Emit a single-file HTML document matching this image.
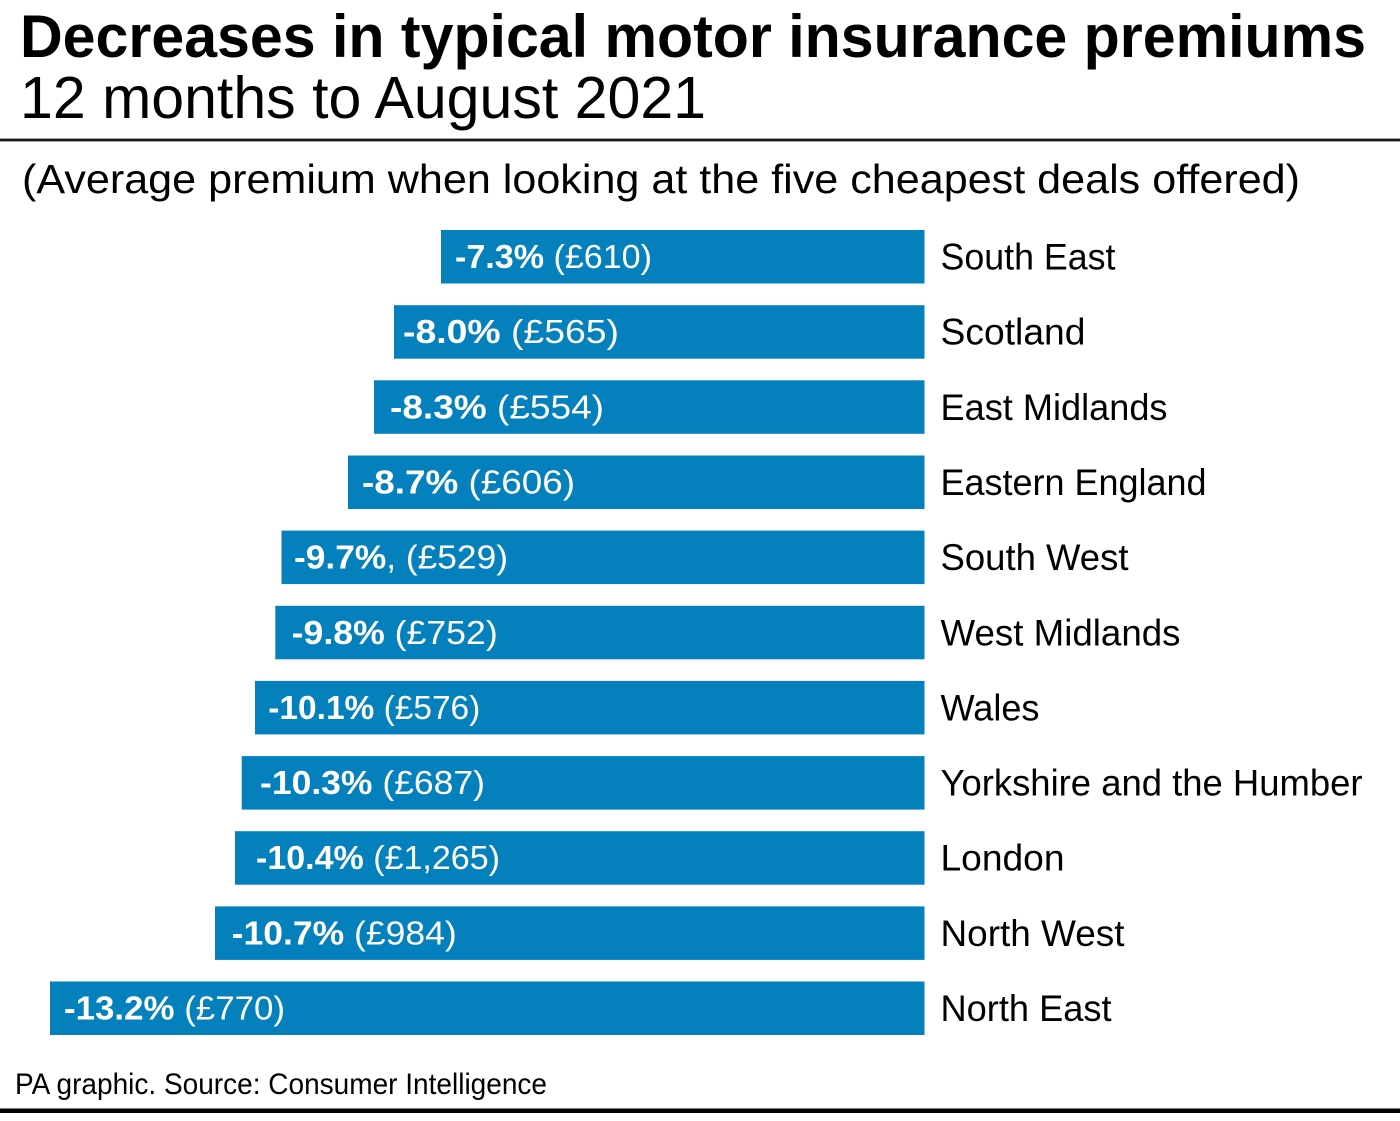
<!DOCTYPE html>
<html>
<head>
<meta charset="utf-8">
<style>
  html, body { margin: 0; padding: 0; background: #fff; }
  body { width: 1400px; height: 1121px; overflow: hidden; }
  svg { display: block; }
  text { font-family: "Liberation Sans", Arial, sans-serif; }
</style>
</head>
<body>
<svg width="1400" height="1121" viewBox="0 0 1400 1121" xmlns="http://www.w3.org/2000/svg">
  <rect x="0" y="0" width="1400" height="1121" fill="#ffffff"/>

  <!-- Title -->
  <text x="20" y="57" font-size="60" font-weight="bold" fill="#000" textLength="1346" lengthAdjust="spacingAndGlyphs">Decreases in typical motor insurance premiums</text>
  <text x="20" y="118" font-size="59" fill="#000" textLength="686" lengthAdjust="spacingAndGlyphs">12 months to August 2021</text>

  <rect x="0" y="138.6" width="1400" height="2.8" fill="#1a1a1a"/>

  <text x="22" y="193" font-size="41" fill="#000" textLength="1278" lengthAdjust="spacingAndGlyphs">(Average premium when looking at the five cheapest deals offered)</text>

  <!-- Bars -->
  <g fill="#0481bd">
    <rect x="441" y="230" width="483.5" height="53.5"/>
    <rect x="394" y="305.2" width="530.5" height="53.5"/>
    <rect x="374" y="380.3" width="550.5" height="53.5"/>
    <rect x="348" y="455.5" width="576.5" height="53.5"/>
    <rect x="281.5" y="530.6" width="643" height="53.5"/>
    <rect x="275.3" y="605.8" width="649.2" height="53.5"/>
    <rect x="255" y="680.9" width="669.5" height="53.5"/>
    <rect x="241.7" y="756.1" width="682.8" height="53.5"/>
    <rect x="235" y="831.2" width="689.5" height="53.5"/>
    <rect x="215" y="906.4" width="709.5" height="53.5"/>
    <rect x="50" y="981.5" width="874.5" height="53.5"/>
  </g>

  <!-- Bar values -->
  <g fill="#ffffff" font-size="33">
    <text x="455" y="268" textLength="197" lengthAdjust="spacingAndGlyphs"><tspan font-weight="bold">-7.3%</tspan> (£610)</text>
    <text x="403" y="343.2" textLength="216" lengthAdjust="spacingAndGlyphs"><tspan font-weight="bold">-8.0%</tspan> (£565)</text>
    <text x="390" y="418.3" textLength="214" lengthAdjust="spacingAndGlyphs"><tspan font-weight="bold">-8.3%</tspan> (£554)</text>
    <text x="362" y="493.5" textLength="213" lengthAdjust="spacingAndGlyphs"><tspan font-weight="bold">-8.7%</tspan> (£606)</text>
    <text x="294" y="568.6" textLength="214" lengthAdjust="spacingAndGlyphs"><tspan font-weight="bold">-9.7%</tspan>, (£529)</text>
    <text x="291.7" y="643.8" textLength="206" lengthAdjust="spacingAndGlyphs"><tspan font-weight="bold">-9.8%</tspan> (£752)</text>
    <text x="268.3" y="718.9" textLength="212" lengthAdjust="spacingAndGlyphs"><tspan font-weight="bold">-10.1%</tspan> (£576)</text>
    <text x="260" y="794.1" textLength="225" lengthAdjust="spacingAndGlyphs"><tspan font-weight="bold">-10.3%</tspan> (£687)</text>
    <text x="256" y="869.2" textLength="244" lengthAdjust="spacingAndGlyphs"><tspan font-weight="bold">-10.4%</tspan> (£1,265)</text>
    <text x="231.7" y="944.4" textLength="225" lengthAdjust="spacingAndGlyphs"><tspan font-weight="bold">-10.7%</tspan> (£984)</text>
    <text x="64" y="1019.5" textLength="221" lengthAdjust="spacingAndGlyphs"><tspan font-weight="bold">-13.2%</tspan> (£770)</text>
  </g>

  <!-- Region labels -->
  <g fill="#000" font-size="37">
    <text x="940.5" y="269.5" textLength="175" lengthAdjust="spacingAndGlyphs">South East</text>
    <text x="940.5" y="344.7" textLength="145" lengthAdjust="spacingAndGlyphs">Scotland</text>
    <text x="940.5" y="419.8" textLength="227" lengthAdjust="spacingAndGlyphs">East Midlands</text>
    <text x="940.5" y="495" textLength="266" lengthAdjust="spacingAndGlyphs">Eastern England</text>
    <text x="940.5" y="570.1" textLength="188" lengthAdjust="spacingAndGlyphs">South West</text>
    <text x="940.5" y="645.3" textLength="240" lengthAdjust="spacingAndGlyphs">West Midlands</text>
    <text x="940.5" y="720.4" textLength="99" lengthAdjust="spacingAndGlyphs">Wales</text>
    <text x="940.5" y="795.6" textLength="422" lengthAdjust="spacingAndGlyphs">Yorkshire and the Humber</text>
    <text x="940.5" y="870.7" textLength="124" lengthAdjust="spacingAndGlyphs">London</text>
    <text x="940.5" y="945.9" textLength="184" lengthAdjust="spacingAndGlyphs">North West</text>
    <text x="940.5" y="1021" textLength="171" lengthAdjust="spacingAndGlyphs">North East</text>
  </g>

  <!-- Footer -->
  <text x="15" y="1094" font-size="30" fill="#000" textLength="532" lengthAdjust="spacingAndGlyphs">PA graphic. Source: Consumer Intelligence</text>
  <rect x="0" y="1108.5" width="1400" height="4.5" fill="#000"/>
</svg>
</body>
</html>
